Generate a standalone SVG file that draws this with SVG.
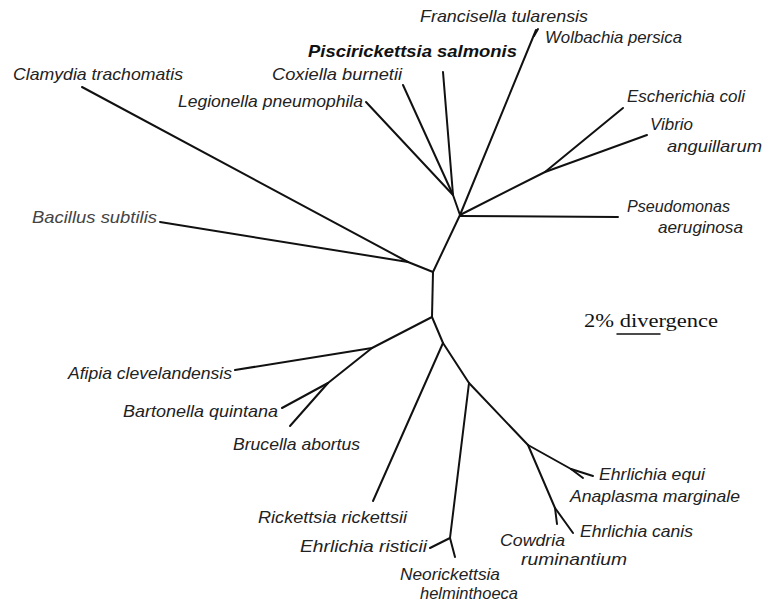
<svg xmlns="http://www.w3.org/2000/svg" width="777" height="607" viewBox="0 0 777 607">
<style>
.lbl{font-family:"Liberation Sans","DejaVu Sans",sans-serif;font-style:italic;font-size:17px;fill:#222}
.bold{font-weight:bold;font-size:17px;fill:#111}
.scale{font-family:"Liberation Serif","DejaVu Serif",serif;font-size:19px;fill:#111}
.br{fill:none;stroke:#111;stroke-width:2;stroke-linecap:round;stroke-linejoin:round}
</style>
<rect width="777" height="607" fill="#fff"/>
<g id="connectors" class="br">
<path d="M82,87 L408,262"/>
<path d="M160,222 L408,262"/>
<path d="M408,262 L433,272"/>
<path d="M433,272 L460,215"/>
<path d="M433,272 L432,317"/>
<path d="M460,216 L618,217"/>
<path d="M460,215 L536,30"/>
<path d="M534,36 L538,29"/>
<path d="M460,215 L453,195"/>
<path d="M366,102 L453,195"/>
<path d="M403,85 L453,195"/>
<path d="M443,72 L453,195"/>
<path d="M460,215 L545,172"/>
<path d="M545,172 L623,108"/>
<path d="M545,172 L647,135"/>
<path d="M432,317 L372,348"/>
<path d="M372,348 L235,370"/>
<path d="M372,348 L328,383"/>
<path d="M328,383 L282,408"/>
<path d="M328,383 L290,426"/>
<path d="M432,317 L443,343"/>
<path d="M443,343 L373,501"/>
<path d="M443,343 L469,383 L528,445"/>
<path d="M469,383 L450,538"/>
<path d="M450,538 L430,548"/>
<path d="M450,538 L455,557"/>
<path d="M528,445 L571,469"/>
<path d="M571,469 L593,476"/>
<path d="M571,469 L583,478"/>
<path d="M528,445 L555,508"/>
<path d="M555,508 L557,524"/>
<path d="M555,508 L573,533"/>
</g>
<g id="n-francisella"><text class="lbl" x="420" y="22" textLength="168" lengthAdjust="spacingAndGlyphs">Francisella tularensis</text></g>
<g id="n-wolbachia"><text class="lbl" x="545" y="43" textLength="137" lengthAdjust="spacingAndGlyphs">Wolbachia persica</text></g>
<g id="n-piscirickettsia"><text class="lbl bold" x="308" y="57" textLength="209" lengthAdjust="spacingAndGlyphs">Piscirickettsia salmonis</text></g>
<g id="n-coxiella"><text class="lbl" x="272" y="80" textLength="130" lengthAdjust="spacingAndGlyphs">Coxiella burnetii</text></g>
<g id="n-legionella"><text class="lbl" x="178" y="107" textLength="185" lengthAdjust="spacingAndGlyphs">Legionella pneumophila</text></g>
<g id="n-clamydia"><text class="lbl" x="13" y="80" textLength="170" lengthAdjust="spacingAndGlyphs">Clamydia trachomatis</text></g>
<g id="n-escherichia"><text class="lbl" x="627" y="102" textLength="118" lengthAdjust="spacingAndGlyphs">Escherichia coli</text></g>
<g id="n-vibrio"><text class="lbl" x="650" y="130" textLength="43" lengthAdjust="spacingAndGlyphs">Vibrio</text><text class="lbl" x="667" y="152" textLength="95" lengthAdjust="spacingAndGlyphs">anguillarum</text></g>
<g id="n-pseudomonas"><text class="lbl" x="627" y="212" textLength="103" lengthAdjust="spacingAndGlyphs">Pseudomonas</text><text class="lbl" x="658" y="233" textLength="85" lengthAdjust="spacingAndGlyphs">aeruginosa</text></g>
<g id="n-bacillus"><text class="lbl" x="32" y="223" textLength="125" lengthAdjust="spacingAndGlyphs" style="fill:#444">Bacillus subtilis</text></g>
<g id="scale-bar"><text class="scale" x="584" y="327" textLength="134" lengthAdjust="spacingAndGlyphs">2% divergence</text><path d="M617,334 L660,334" class="br" style="stroke-width:1.5"/></g>
<g id="n-afipia"><text class="lbl" x="68" y="379" textLength="164" lengthAdjust="spacingAndGlyphs">Afipia clevelandensis</text></g>
<g id="n-bartonella"><text class="lbl" x="123" y="417" textLength="155" lengthAdjust="spacingAndGlyphs">Bartonella quintana</text></g>
<g id="n-brucella"><text class="lbl" x="233" y="450" textLength="127" lengthAdjust="spacingAndGlyphs">Brucella abortus</text></g>
<g id="n-rickettsia"><text class="lbl" x="258" y="523" textLength="149" lengthAdjust="spacingAndGlyphs">Rickettsia rickettsii</text></g>
<g id="n-risticii"><text class="lbl" x="300" y="552" textLength="127" lengthAdjust="spacingAndGlyphs">Ehrlichia risticii</text></g>
<g id="n-neorickettsia"><text class="lbl" x="400" y="580" textLength="100" lengthAdjust="spacingAndGlyphs">Neorickettsia</text><text class="lbl" x="420" y="599" textLength="98" lengthAdjust="spacingAndGlyphs">helminthoeca</text></g>
<g id="n-equi"><text class="lbl" x="599" y="480" textLength="106" lengthAdjust="spacingAndGlyphs">Ehrlichia equi</text></g>
<g id="n-anaplasma"><text class="lbl" x="570" y="502" textLength="170" lengthAdjust="spacingAndGlyphs">Anaplasma marginale</text></g>
<g id="n-canis"><text class="lbl" x="580" y="537" textLength="113" lengthAdjust="spacingAndGlyphs">Ehrlichia canis</text></g>
<g id="n-cowdria"><text class="lbl" x="500" y="546" textLength="65" lengthAdjust="spacingAndGlyphs">Cowdria</text><text class="lbl" x="521" y="565" textLength="106" lengthAdjust="spacingAndGlyphs">ruminantium</text></g>
</svg>
